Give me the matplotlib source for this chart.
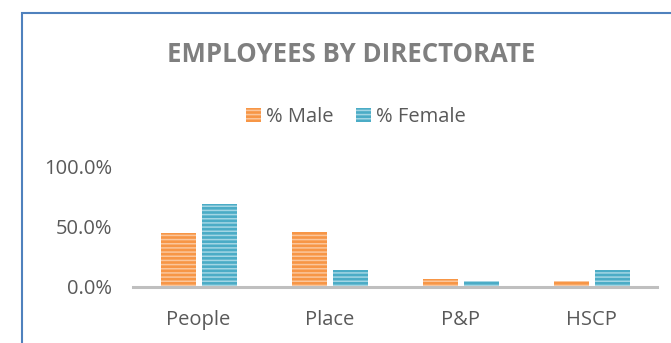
"""Employees by directorate: share of male and female staff per directorate."""
import matplotlib.pyplot as plt
import numpy as np
from matplotlib.patches import Rectangle
from matplotlib.ticker import PercentFormatter

directorates = ["People", "Place", "P&P", "HSCP"]
pct_male = [44.5, 45.3, 6.2, 4.5]
pct_female = [68.7, 13.9, 4.5, 13.9]
series_names = ["% Male", "% Female"]
yticks = [0, 50, 100]

ORANGE, ORANGE_STRIPE = "#F79646", "#FBC69B"
BLUE, BLUE_STRIPE = "#4BACC6", "#A3D6E4"
TEXT = "#595959"

plt.rcParams["font.family"] = ["Open Sans", "DejaVu Sans"]
plt.rcParams["hatch.linewidth"] = 1.1

fig = plt.figure(figsize=(6.71, 3.43), dpi=100)
ax = fig.add_axes([133 / 671, 1 - 286.7 / 343, 524 / 671, 120.2 / 343])

x = np.arange(len(directorates))
width = 35 / 131
gap = 6 / 131
offsets = [-(width + gap) / 2, (width + gap) / 2]

handles = []
for vals, off, base, stripe in [(pct_male, offsets[0], ORANGE, ORANGE_STRIPE),
                                (pct_female, offsets[1], BLUE, BLUE_STRIPE)]:
    ax.bar(x + off, vals, width, color=base, linewidth=0, zorder=2)
    ax.bar(x + off, vals, width, facecolor="none", edgecolor=stripe,
           hatch="----", linewidth=0, zorder=3)
    handles.append(Rectangle((0, 0), 1, 1, facecolor=base, edgecolor=stripe,
                             hatch="----", linewidth=0))

ax.set_xlim(-0.5, len(directorates) - 0.5)
ax.set_ylim(0, 100)
ax.set_yticks(yticks)
ax.yaxis.set_major_formatter(PercentFormatter(decimals=1))
ax.set_xticks(x, directorates)
ax.tick_params(axis="y", length=0, pad=15, labelsize=14.5, labelcolor=TEXT)
ax.tick_params(axis="x", length=0, pad=16.5, labelsize=14.5, labelcolor=TEXT)
for side in ("top", "right", "left"):
    ax.spines[side].set_visible(False)
ax.spines["bottom"].set_color("#BFBFBF")
ax.spines["bottom"].set_linewidth(2.2)
ax.spines["bottom"].set_zorder(4)

fig.text(351.5 / 671, 1 - 62.5 / 343, "EMPLOYEES BY DIRECTORATE", ha="center", va="baseline",
         fontsize=18.5, fontweight="bold", color="#7F7F7F")

fig.legend(handles, series_names, loc="center", bbox_to_anchor=(356 / 671, 1 - 117 / 343),
           ncol=2, frameon=False, fontsize=14.5, labelcolor=TEXT,
           handlelength=0.75, handleheight=0.75, handletextpad=0.25, columnspacing=1.1)

# chart frame, running off the right and bottom edges
fig.add_artist(Rectangle((21.5 / 671, -0.2), 1.2, 1.2 - 13 / 343, transform=fig.transFigure,
                         fill=False, edgecolor="#4F81BD", linewidth=1.5, clip_on=False))

fig.savefig("out.png", dpi=100)
